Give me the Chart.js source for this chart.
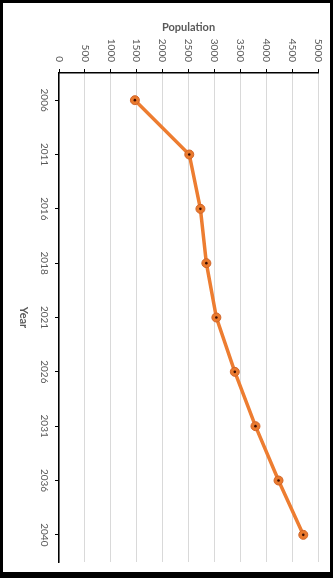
<!DOCTYPE html>
<html lang="en">
<head>
    <meta charset="UTF-8">
    <title>Population</title>
    <script src="https://cdn.jsdelivr.net/npm/chart.js"></script>
    <style>
        body { margin: 0; background: #fff; }
        .frame {
            width: 333px; height: 578px; box-sizing: border-box;
            border: 3px solid #000; border-bottom-width: 6px;
            position: relative; background: #fff;
        }
    </style>
</head>
<body>
    <div class="frame">
        <canvas id="popChart"></canvas>
    </div>

    <script>
        // chart data
        const years = ['2006', '2011', '2016', '2018', '2021', '2026', '2031', '2036', '2040'];
        const population = [1465, 2515, 2730, 2845, 3038, 3394, 3793, 4238, 4716];
        const popMin = 0;
        const popMax = 5000;
        const popStep = 500;

        const textColor = '#595959';
        const tickFont = '10px Lato';
        const titleFont = 'bold 11px Lato';

        // draws the rotated tick labels and axis titles
        const labelPlugin = {
            id: 'rotatedLabels',
            afterDraw(chart) {
                const ctx = chart.ctx;
                const x = chart.scales.x;
                const y = chart.scales.y;
                ctx.save();
                ctx.fillStyle = textColor;

                ctx.font = tickFont;
                x.ticks.forEach((t, i) => {
                    ctx.save();
                    ctx.translate(x.getPixelForTick(i), 59);
                    ctx.rotate(Math.PI / 2);
                    ctx.textAlign = 'right';
                    ctx.textBaseline = 'middle';
                    ctx.fillText(String(t.value), 0, 0);
                    ctx.restore();
                });

                years.forEach((label, i) => {
                    ctx.save();
                    ctx.translate(41.3, y.getPixelForTick(i));
                    ctx.rotate(Math.PI / 2);
                    ctx.textAlign = 'center';
                    ctx.textBaseline = 'middle';
                    ctx.fillText(label, 0, 0);
                    ctx.restore();
                });

                ctx.font = titleFont;
                ctx.textAlign = 'center';
                ctx.textBaseline = 'middle';
                ctx.fillText('Population', 185.5, 24);

                ctx.save();
                ctx.translate(21, (y.top + y.bottom) / 2);
                ctx.rotate(Math.PI / 2);
                ctx.fillText('Year', 0, 0);
                ctx.restore();

                ctx.restore();
            }
        };

        const ctx = document.getElementById('popChart').getContext('2d');
        const popChart = new Chart(ctx, {
            type: 'line',
            data: {
                labels: years,
                datasets: [{
                    label: 'Population',
                    data: population,
                    order: 1,
                    borderColor: '#ED7D31',
                    borderWidth: 3.5,
                    tension: 0,
                    pointRadius: 4.5,
                    pointBackgroundColor: '#EA7A2E',
                    pointBorderColor: '#D0652A',
                    pointBorderWidth: 1
                }, {
                    label: 'centre',
                    data: population,
                    order: 0,
                    showLine: false,
                    pointRadius: 1.3,
                    pointBorderWidth: 0,
                    pointBackgroundColor: '#3a0c00'
                }]
            },
            options: {
                indexAxis: 'y',
                responsive: true,
                maintainAspectRatio: false,
                animation: false,
                layout: { padding: { left: 0, top: 0, right: 12, bottom: 10 } },
                plugins: {
                    legend: { display: false },
                    tooltip: { enabled: false }
                },
                scales: {
                    x: {
                        type: 'linear',
                        position: 'top',
                        min: popMin,
                        max: popMax,
                        ticks: { stepSize: popStep, display: false },
                        grid: { color: '#d9d9d9', tickColor: '#000', tickLength: 4 },
                        border: { color: '#000', width: 1.5 },
                        afterFit: s => { s.height = 70; }
                    },
                    y: {
                        type: 'category',
                        position: 'left',
                        offset: true,
                        ticks: { display: false },
                        grid: { drawOnChartArea: false, offset: false, tickColor: '#000', tickLength: 4 },
                        border: { color: '#000', width: 1.5 },
                        afterFit: s => { s.width = 56; }
                    }
                }
            },
            plugins: [labelPlugin]
        });
    </script>
</body>
</html>
